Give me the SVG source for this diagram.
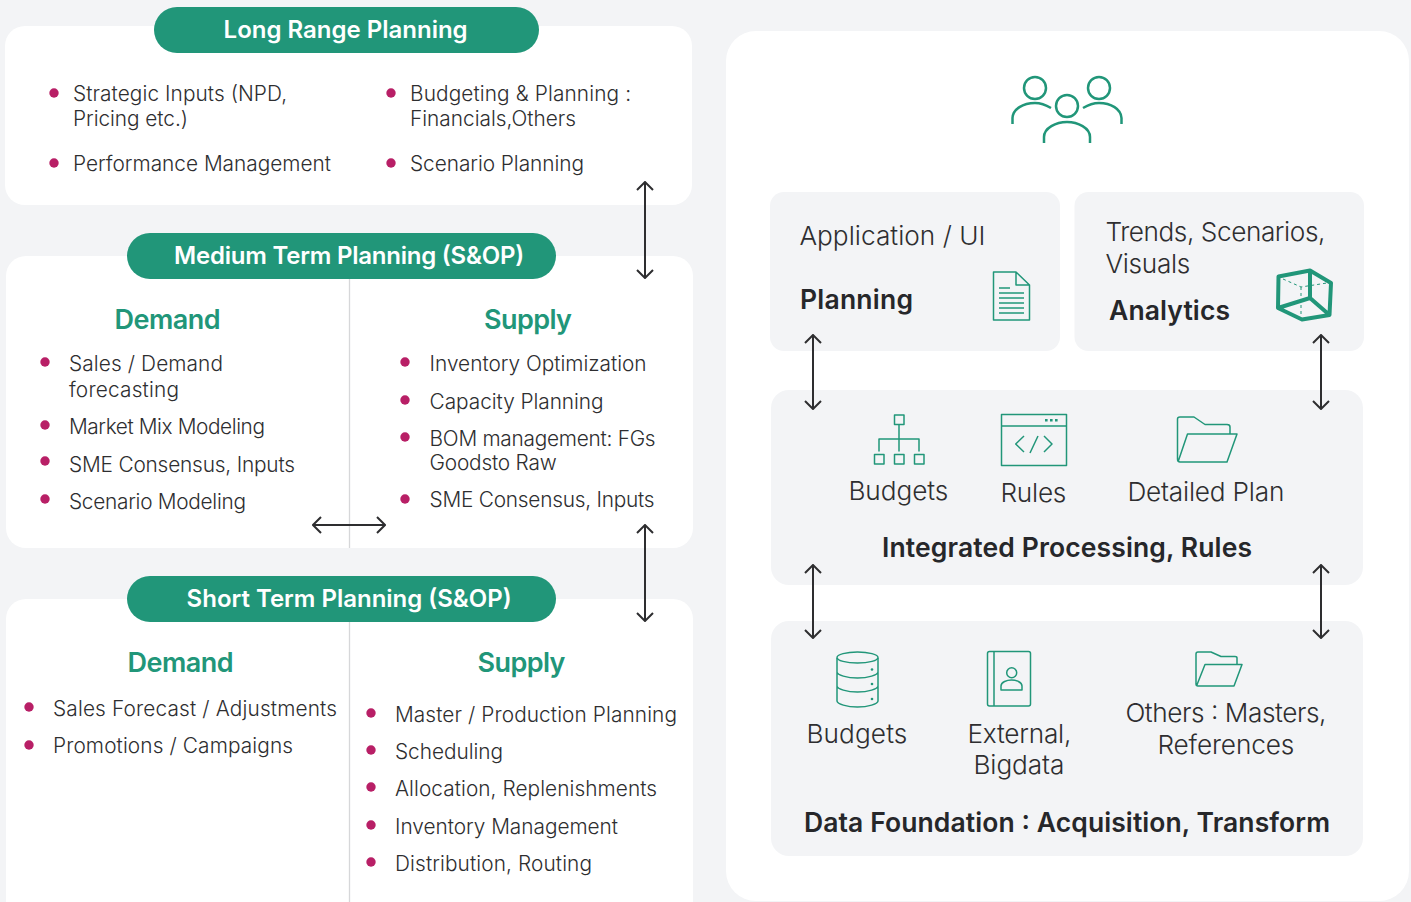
<svg xmlns="http://www.w3.org/2000/svg" width="1411" height="902" viewBox="0 0 1411 902">
<style>
text{font-family:"Inter","Liberation Sans",sans-serif;fill:#2e2e30;transform:translateY(.8px)}
.b{font-size:20.8px;font-weight:300}
.t{font-size:26.2px;font-weight:300;transform:translate(-.6px,.8px)}
.h{font-size:26.5px;font-weight:600;fill:#26272a}
.d{font-size:27px;font-weight:600;fill:#219679;text-anchor:middle;transform:translate(-.5px,.8px)}
.p{font-size:24px;font-weight:600;fill:#fff;text-anchor:middle;transform:translate(-.4px,.4px)}
.pill{fill:#219679}
.card{fill:#fff}
.sub{fill:#f3f4f6}
.dot{fill:#b81f66}
.div{stroke:#d6d7d9;stroke-width:1.3;fill:none}
.ic{fill:none;stroke:#219679;stroke-width:1.5;stroke-linejoin:round}
.ic2{fill:none;stroke:#219679;stroke-width:2.5;stroke-linejoin:round}
.cn{fill:none;stroke:#2e2e30;stroke-width:2;marker-start:url(#ah);marker-end:url(#ah)}
</style>
<defs>
<marker id="ah" viewBox="0 0 10 18" refX="9" refY="9" markerWidth="10" markerHeight="18" markerUnits="userSpaceOnUse" orient="auto-start-reverse"><path d="M1,1 L9,9 L1,17" fill="none" stroke="#2e2e30" stroke-width="2"/></marker>
</defs>
<rect width="1411" height="902" fill="#f3f4f6"/>

<g id="long-range">
<rect class="card" x="5" y="26" width="687" height="179" rx="20"/>
<rect class="pill" x="154" y="7" width="385" height="46" rx="23"/>
<text class="p" x="346" y="38" textLength="244">Long Range Planning</text>
<circle class="dot" cx="54" cy="93" r="4.7"/><text class="b" x="73" y="100" textLength="214">Strategic Inputs (NPD,</text>
<text class="b" x="73" y="125" textLength="115">Pricing etc.)</text>
<circle class="dot" cx="54" cy="163" r="4.7"/><text class="b" x="73" y="170" textLength="258">Performance Management</text>
<circle class="dot" cx="391" cy="93" r="4.7"/><text class="b" x="410" y="100" textLength="221">Budgeting &amp; Planning :</text>
<text class="b" x="410" y="125" textLength="166">Financials,Others</text>
<circle class="dot" cx="391" cy="163" r="4.7"/><text class="b" x="410" y="170" textLength="174">Scenario Planning</text>
</g>

<g id="medium-term">
<rect class="card" x="6" y="256" width="687" height="292" rx="20"/>
<path class="div" d="M349.5,279V548"/>
<rect class="pill" x="127" y="233" width="429" height="46" rx="23"/>
<text class="p" x="349.500" y="264" textLength="350">Medium Term Planning (S&amp;OP)</text>
<text class="d" x="168" y="328" textLength="106">Demand</text>
<text class="d" x="528.500" y="328" textLength="88">Supply</text>
<circle class="dot" cx="45" cy="362" r="4.7"/><text class="b" x="69" y="370" textLength="154">Sales / Demand</text>
<text class="b" x="69" y="396" textLength="110">forecasting</text>
<circle class="dot" cx="45" cy="425" r="4.7"/><text class="b" x="69" y="433" textLength="196">Market Mix Modeling</text>
<circle class="dot" cx="45" cy="461" r="4.7"/><text class="b" x="69" y="471" textLength="226">SME Consensus, Inputs</text>
<circle class="dot" cx="45" cy="499" r="4.7"/><text class="b" x="69" y="508" textLength="177">Scenario Modeling</text>
<circle class="dot" cx="405" cy="362" r="4.7"/><text class="b" x="429.600" y="370" textLength="217">Inventory Optimization</text>
<circle class="dot" cx="405" cy="400" r="4.7"/><text class="b" x="429.600" y="408" textLength="174">Capacity Planning</text>
<circle class="dot" cx="405" cy="437" r="4.7"/><text class="b" x="429.600" y="445" textLength="226">BOM management: FGs</text>
<text class="b" x="429.600" y="469" textLength="127">Goodsto Raw</text>
<circle class="dot" cx="405" cy="499" r="4.7"/><text class="b" x="429.600" y="506" textLength="225">SME Consensus, Inputs</text>
</g>

<g id="short-term">
<rect class="card" x="6" y="599" width="687" height="323" rx="20"/>
<path class="div" d="M349.5,622V902"/>
<rect class="pill" x="127" y="576" width="429" height="46" rx="23"/>
<text class="p" x="349.500" y="607" textLength="325">Short Term Planning (S&amp;OP)</text>
<text class="d" x="181" y="671" textLength="106">Demand</text>
<text class="d" x="522" y="671" textLength="88">Supply</text>
<circle class="dot" cx="29" cy="707" r="4.7"/><text class="b" x="53" y="715" textLength="284">Sales Forecast / Adjustments</text>
<circle class="dot" cx="29" cy="745" r="4.7"/><text class="b" x="53" y="752" textLength="240">Promotions / Campaigns</text>
<circle class="dot" cx="371" cy="713" r="4.7"/><text class="b" x="395" y="721" textLength="282">Master / Production Planning</text>
<circle class="dot" cx="371" cy="750" r="4.7"/><text class="b" x="395" y="758" textLength="108">Scheduling</text>
<circle class="dot" cx="371" cy="787" r="4.7"/><text class="b" x="395" y="795" textLength="262">Allocation, Replenishments</text>
<circle class="dot" cx="371" cy="825" r="4.7"/><text class="b" x="395" y="833" textLength="223">Inventory Management</text>
<circle class="dot" cx="371" cy="862" r="4.7"/><text class="b" x="395" y="870" textLength="197">Distribution, Routing</text>
</g>

<g id="panel"><rect class="card" x="726" y="31" width="683" height="870" rx="30"/></g>

<g id="users" class="ic2">
<circle class="ic2" cx="1035" cy="88" r="11"/><circle class="ic2" cx="1099" cy="88" r="11"/><circle class="ic2" cx="1067" cy="106" r="11"/>
<path class="ic2" d="M1012.500,124V118C1013,109 1023,103 1035,103C1041,103 1046,105 1051,108"/>
<path class="ic2" d="M1121.500,124V118C1121,109 1111,103 1099,103C1093,103 1088,105 1083,108"/>
<path class="ic2" d="M1044,143V137C1044,128 1056,122 1067,122C1078,122 1090,128 1090,137V143"/>
</g>

<g id="application-ui">
<rect class="sub" x="770" y="192" width="290" height="159" rx="14"/>
<text class="t" x="800" y="244" textLength="186">Application / UI</text>
<text class="h" x="800" y="308" textLength="113">Planning</text>
<path class="ic" d="M993.500,272H1016L1029.500,285V320H993.500ZM1016,272V285H1029.500"/>
<path class="ic" d="M999,288H1010M999,293H1024M999,298H1024M999,303H1024M999,308H1024M999,313H1024"/>
</g>

<g id="analytics">
<rect class="sub" x="1074.500" y="192" width="289.500" height="159" rx="14"/>
<text class="t" x="1106" y="240" textLength="220">Trends, Scenarios,</text>
<text class="t" x="1106" y="272" textLength="85">Visuals</text>
<text class="h" x="1109" y="319" textLength="121">Analytics</text>
<path fill="none" stroke="#219679" stroke-width="4" stroke-linejoin="round" d="M1278.500,276.500L1310,270.500L1331,283L1329.500,315L1302,319.500L1278,308ZM1310,270.500V298L1278,308M1310,298L1329.500,315"/>
<path fill="none" stroke="#219679" stroke-width="1" stroke-dasharray="3 3" d="M1283,279L1301,287L1327,283M1301,287V316"/>
</g>

<g id="integrated-processing">
<rect class="sub" x="771" y="390" width="592" height="195" rx="18"/>
<path class="ic" d="M894.500,415H904V424.500H894.500ZM874.500,454.500H884V464H874.500ZM894.500,454.500H904V464H894.500ZM914.500,454.500H924V464H914.500ZM899,424.500V451.500M879,451.500V439H919V451.500"/>
<text class="t" x="849" y="499" textLength="100">Budgets</text>
<rect class="ic" x="1001.500" y="414.500" width="65" height="51"/>
<path class="ic" d="M1001.500,426H1066.500M1024,436L1015.700,444L1024,452M1038,436L1030,453M1044,436L1052,444L1044,452"/>
<path fill="#219679" d="M1045,419h2.600v2.600h-2.600zM1050,419h2.600v2.600h-2.600zM1055,419h2.600v2.600h-2.600z"/>
<text class="t" x="1001" y="501" textLength="66">Rules</text>
<path class="ic" d="M1178,462L1187.500,434H1237L1227,462H1180Q1177.500,462 1177.500,459V419Q1177.500,417 1180,417H1194L1205,424.500H1227Q1230,424.500 1230,427V434"/>
<text class="t" x="1128" y="500" textLength="157">Detailed Plan</text>
<text class="h" x="882" y="556" textLength="370">Integrated Processing, Rules</text>
</g>

<g id="data-foundation">
<rect class="sub" x="771" y="621" width="592" height="235" rx="18"/>
<ellipse class="ic" cx="857.500" cy="657.500" rx="20.500" ry="5.500"/>
<path class="ic" d="M837,658V701C837,704 847,707 857.500,707C868,707 878,704 878,701V658M837,672C837,675 847,678 857.500,678C868,678 878,675 878,672M837,686C837,689 847,692 857.500,692C868,692 878,689 878,686"/>
<circle cx="872" cy="669.500" r="1.300" fill="#219679"/><circle cx="872" cy="684" r="1.300" fill="#219679"/><circle cx="872" cy="699" r="1.300" fill="#219679"/>
<text class="t" x="807" y="742" textLength="101">Budgets</text>
<rect class="ic" x="987.500" y="651.500" width="43" height="54.500" rx="2"/>
<path class="ic" d="M994,651.500V706" stroke-width="2"/>
<circle class="ic" cx="1011.700" cy="672.700" r="5"/>
<path class="ic" d="M1001,690H1022V686C1022,682 1016,680 1011.500,680C1007,680 1001,682 1001,686Z"/>
<text class="t" x="968" y="742" textLength="104">External,</text>
<text class="t" x="974" y="773" textLength="91">Bigdata</text>
<path class="ic" d="M1196.500,686L1205,664.500H1242L1234,686H1198Q1196,686 1196,684V654Q1196,652 1198,652H1211L1221,656.500H1235Q1237,656.500 1237,658V664.500"/>
<text class="t" x="1126" y="721" textLength="201">Others : Masters,</text>
<text class="t" x="1158" y="753" textLength="137">References</text>
<text class="h" x="804" y="831" textLength="526">Data Foundation : Acquisition, Transform</text>
</g>

<g id="connectors">
<path class="cn" d="M645,182V278"/>
<path class="cn" d="M313,525H385"/>
<path class="cn" d="M645,525V621"/>
<path class="cn" d="M813,335V409"/>
<path class="cn" d="M1321,335V409"/>
<path class="cn" d="M813,565V638"/>
<path class="cn" d="M1321,565V638"/>
</g>
</svg>
